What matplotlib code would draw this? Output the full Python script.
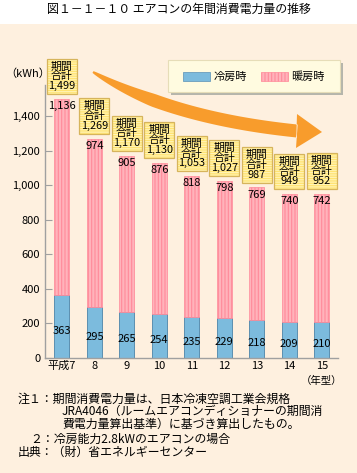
import numpy as np
import matplotlib
matplotlib.use("Agg")
import matplotlib.pyplot as plt
from matplotlib.patches import Rectangle, Polygon, Patch

plt.rcParams['font.family'] = ['Noto Sans CJK JP', 'DejaVu Sans']
plt.rcParams['hatch.linewidth'] = 0.8

# data
years = ['平成7', '8', '9', '10', '11', '12', '13', '14', '15']
cooling = [363, 295, 265, 254, 235, 229, 218, 209, 210]
heating = [1136, 974, 905, 876, 818, 798, 769, 740, 742]
yticks = [0, 200, 400, 600, 800, 1000, 1200, 1400]

W, H = 357, 473
BEIGE = '#fef0df'
BLUE = '#7cbbdd'
PINK = '#ffb3bb'
PINK_LINE = '#ff8a9a'


def fx(px):
    return px / W


def fy(py):
    return 1 - py / H


fig = plt.figure(figsize=(W / 100, H / 100), dpi=100)
fig.patch.set_facecolor('white')
fig.patches.append(Rectangle((0, 0), 1, fy(24), transform=fig.transFigure,
                             facecolor=BEIGE, edgecolor='none', zorder=-10))

fig.text(0.5, fy(9), '図１－１－１０ エアコンの年間消費電力量の推移',
         ha='center', va='center', fontsize=8.6)

ax = fig.add_axes([fx(45), fy(358), fx(338) - fx(45), fy(85) - fy(358)])
ax.set_facecolor('none')

x = np.arange(len(years))
cool = np.array(cooling)
heat = np.array(heating)
total = cool + heat

ax.bar(x, cool, width=0.46, color=BLUE, edgecolor='#5b8fb0', linewidth=0.7, zorder=2)
ax.bar(x, heat, width=0.46, bottom=cool, color=PINK, edgecolor=PINK_LINE,
       hatch='|||||', linewidth=0.5, zorder=2)

ax.set_xlim(-0.52, 8.5)
ax.set_ylim(0, 1580)
ax.set_yticks(yticks)
ax.set_yticklabels([f'{v:,}' for v in yticks])
ax.set_xticks(x)
ax.set_xticklabels(years)
ax.tick_params(axis='y', direction='in', length=5, color='#a0a0a0', labelsize=8, pad=3.5)
ax.tick_params(axis='x', length=0, labelsize=8, pad=2)
for s in ['top', 'right']:
    ax.spines[s].set_visible(False)
for s in ['left', 'bottom']:
    ax.spines[s].set_color('#a0a0a0')
    ax.spines[s].set_linewidth(1)

# value labels
for xi, c, h, t in zip(x, cool, heat, total):
    ax.annotate(f'{c:,}', (xi, c / 2), xytext=(0, -3), textcoords='offset points',
                ha='center', va='center', fontsize=8, zorder=4)
    ax.annotate(f'{h:,}', (xi, t), xytext=(0, -1.5), textcoords='offset points',
                ha='center', va='top', fontsize=8, zorder=4)
    # 期間合計 tag
    bw, bh, gap = 0.93, 205, 28
    ax.add_patch(Rectangle((xi - bw / 2, t + gap), bw, bh, facecolor='#ffe372',
                           edgecolor='#fff4b8', hatch='-------', linewidth=0,
                           clip_on=False, zorder=5))
    ax.add_patch(Rectangle((xi - bw / 2, t + gap), bw, bh, fill=False,
                           edgecolor='#d6b45c', linewidth=0.9, clip_on=False, zorder=6))
    ax.text(xi, t + gap + bh / 2, f'期間\n合計\n{t:,}', ha='center', va='center',
            fontsize=7.8, linespacing=0.98, clip_on=False, zorder=7)

fig.text(fx(28), fy(74), '（kWh）', ha='center', va='center', fontsize=8)
fig.text(fx(322), fy(381), '（年型）', ha='center', va='center', fontsize=7.5)

# legend box
fig.patches.append(Rectangle((fx(171), fy(95)), fx(172), fy(60) - fy(92),
                             transform=fig.transFigure, facecolor='#b5b5ab',
                             edgecolor='none', zorder=-5))
fig.patches.append(Rectangle((fx(168), fy(92)), fx(172), fy(60) - fy(92),
                             transform=fig.transFigure, facecolor='#fffbe0',
                             edgecolor='#e6ddb8', linewidth=0.8, zorder=-4))
handles = [Patch(facecolor=BLUE, edgecolor='#6a9cbc', linewidth=0.6, label='冷房時'),
           Patch(facecolor=PINK, edgecolor=PINK_LINE, hatch='|||||', linewidth=0.5, label='暖房時')]
ax.legend(handles=handles, ncol=2, frameon=False, fontsize=8,
          loc='center', bbox_to_anchor=(fx(254), fy(77)), bbox_transform=fig.transFigure,
          handlelength=2.4, handleheight=0.9, handletextpad=0.3, columnspacing=1.3)

# curved orange arrow
t_ = np.linspace(0, 1, 60)
p0, p1, p2 = np.array([93, 72]), np.array([170, 118]), np.array([297, 131])
pts = ((1 - t_) ** 2)[:, None] * p0 + (2 * (1 - t_) * t_)[:, None] * p1 + (t_ ** 2)[:, None] * p2
d = np.gradient(pts, axis=0)
nrm = np.stack([-d[:, 1], d[:, 0]], axis=1)
nrm /= np.linalg.norm(nrm, axis=1)[:, None]
wid = 1 + 5.5 * np.clip(t_ / 0.35, 0, 1) ** 0.8
upper = pts + nrm * wid[:, None]
lower = pts - nrm * wid[:, None]
head = np.array([[297, 114], [322, 132], [296, 148]])
outline = np.vstack([upper, head, lower[::-1]])
fig.patches.append(Polygon(np.column_stack([fx(outline[:, 0]), fy(outline[:, 1])]),
                           closed=True, transform=fig.transFigure,
                           facecolor='#f89c2c', edgecolor='none', zorder=-5))

# notes
notes = [
    (18, 399, '注１：期間消費電力量は、日本冷凍空調工業会規格'),
    (62, 411.8, 'JRA4046（ルームエアコンディショナーの期間消'),
    (62, 424.6, '費電力量算出基準）に基づき算出したもの。'),
    (30, 439, '２：冷房能力2.8kWのエアコンの場合'),
    (18, 452, '出典：（財）省エネルギーセンター'),
]
for px, py, s in notes:
    fig.text(fx(px), fy(py), s, ha='left', va='center', fontsize=8.6)

fig.savefig('out.png', dpi=100, facecolor=fig.get_facecolor())
